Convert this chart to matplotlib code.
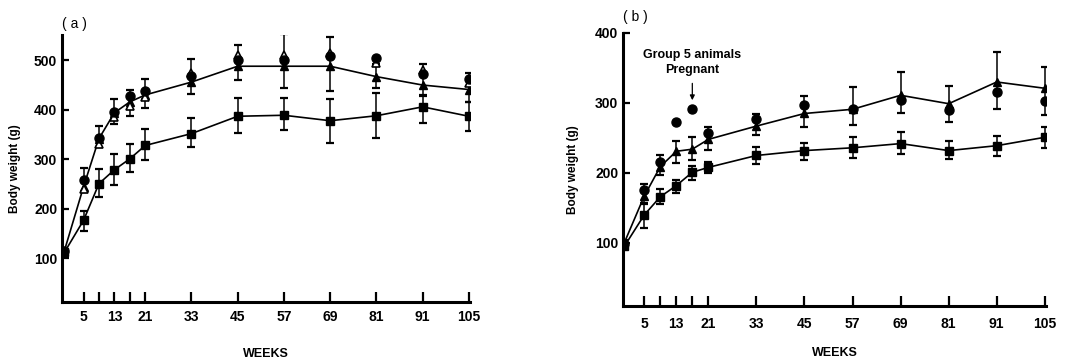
import matplotlib
matplotlib.use("Agg")
import matplotlib.pyplot as plt

plt.rcParams['font.family'] = ['Liberation Sans', 'DejaVu Sans']

# weeks (plotted positions) and the printed tick labels
weeks = [0, 5, 9, 13, 17, 21, 33, 45, 57, 69, 81, 93, 105]
tick_labels = ['5', '', '13', '', '21', '33', '45', '57', '69', '81', '91', '105']

# panel (a) body weights (g)
a_tri = [115, 245, 342, 394, 416, 430, 456, 488, 488, 488, 467, 450, 441]
a_tri_lo = [7, 10, 17, 22, 29, 26, 25, 28, 43, 50, 22, 21, 25]
a_tri_hi = [7, 37, 26, 27, 25, 32, 47, 43, 65, 59, 25, 42, 34]
a_circ = [115, 258, 343, 396, 428, 438, 468, 500, 500, 508, 504, 472, 463]
a_open = [113, 240, 330, 386, 407, 425, 475, 510, 510, 514, 494, 480, 454]
a_sq = [112, 177, 251, 279, 301, 328, 352, 387, 389, 378, 388, 406, 387]
a_sq_lo = [6, 22, 27, 30, 27, 30, 27, 34, 30, 44, 44, 33, 30]
a_sq_hi = [6, 18, 29, 31, 29, 33, 32, 36, 35, 43, 45, 22, 28]

# panel (b) body weights (g)
b_tri = [100, 167, 209, 231, 234, 248, 267, 285, 291, 311, 299, 330, 321]
b_tri_lo = [4, 10, 12, 17, 16, 15, 13, 19, 22, 25, 26, 39, 38]
b_tri_hi = [4, 17, 16, 15, 17, 18, 17, 25, 32, 33, 25, 43, 31]
b_circ = [98, 175, 215, 273, 291, 257, 277, 297, 291, 304, 290, 315, 303]
b_sq = [95, 140, 166, 182, 201, 208, 225, 232, 236, 242, 232, 239, 251]
b_sq_lo = [4, 18, 10, 11, 11, 8, 12, 13, 14, 15, 12, 15, 15]
b_sq_hi = [4, 16, 11, 8, 9, 7, 12, 11, 15, 16, 13, 14, 14]

fig = plt.figure(figsize=(10.69, 3.61), dpi=100)
ax_a = fig.add_axes([0.058, 0.1634, 0.3817, 0.7396])
ax_b = fig.add_axes([0.5828, 0.1524, 0.3957, 0.7562])

err_kw = dict(ecolor='black', elinewidth=1.1, capsize=3, capthick=1.6, zorder=2)


def style(ax, ylim, yticks, xpad):
    ax.set_xlim(-0.6, 105.3)
    ax.set_ylim(*ylim)
    ax.set_xticks(weeks[1:])
    ax.set_xticklabels(tick_labels)
    ax.set_yticks(yticks)
    ax.tick_params(direction='in', length=5, width=1.6, labelsize=10)
    ax.tick_params(axis='x', pad=xpad, length=7)
    for lab in ax.get_xticklabels() + ax.get_yticklabels():
        lab.set_fontweight('bold')
    for s in ['top', 'right']:
        ax.spines[s].set_visible(False)
    for s in ['left', 'bottom']:
        ax.spines[s].set_linewidth(2.2)
    ax.set_xlabel('WEEKS', fontsize=9, fontweight='bold')
    ax.set_ylabel('Body weight (g)', fontsize=8.5, fontweight='bold')


# panel (a)
ax_a.errorbar(weeks, a_tri, yerr=[a_tri_lo, a_tri_hi], fmt='none', **err_kw)
ax_a.errorbar(weeks, a_sq, yerr=[a_sq_lo, a_sq_hi], fmt='none', **err_kw)
ax_a.plot(weeks, a_tri, ls='-', color='black', lw=1.2, marker='^', ms=6, zorder=3)
ax_a.plot(weeks, a_sq, ls='-', color='black', lw=1.2, marker='s', ms=6, zorder=3)
ax_a.plot(weeks, a_open, ls='none', marker='^', ms=6, mfc='white', mec='black', mew=1.2, zorder=4)
ax_a.plot(weeks, a_circ, ls='none', marker='o', ms=6.5, color='black', zorder=5)
style(ax_a, (12, 551), [100, 200, 300, 400, 500], 6)
ax_a.xaxis.set_label_coords(0.5, -0.195)
ax_a.xaxis.label.set_va('center')
ax_a.yaxis.set_label_coords(-0.115, 0.5)
ax_a.yaxis.label.set_va('center')

# panel (b)
ax_b.errorbar(weeks, b_tri, yerr=[b_tri_lo, b_tri_hi], fmt='none', **err_kw)
ax_b.errorbar(weeks, b_sq, yerr=[b_sq_lo, b_sq_hi], fmt='none', **err_kw)
ax_b.plot(weeks, b_tri, ls='-', color='black', lw=1.2, marker='^', ms=6, zorder=3)
ax_b.plot(weeks, b_sq, ls='-', color='black', lw=1.2, marker='s', ms=6, zorder=3)
ax_b.plot(weeks, b_circ, ls='none', marker='o', ms=6.5, color='black', zorder=5)
style(ax_b, (10, 400), [100, 200, 300, 400], 8)
ax_b.set_xlim(-0.3, 105.3)
ax_b.xaxis.set_label_coords(0.5, -0.172)
ax_b.xaxis.label.set_va('center')
ax_b.yaxis.set_label_coords(-0.118, 0.5)
ax_b.yaxis.label.set_va('center')

ax_b.annotate('', xy=(17, 300), xytext=(17, 332),
              arrowprops=dict(arrowstyle='-|>', color='black', lw=0.9, mutation_scale=7))
ax_b.text(17, 358, 'Group 5 animals\nPregnant', ha='center', va='center',
          fontsize=9, fontweight='bold', linespacing=1.25)

fig.text(62 / 1069, 1 - 24 / 361, '( a )', fontsize=10, ha='left', va='center')
fig.text(623 / 1069, 1 - 17 / 361, '( b )', fontsize=10, ha='left', va='center')

fig.savefig('out.png', dpi=100)
